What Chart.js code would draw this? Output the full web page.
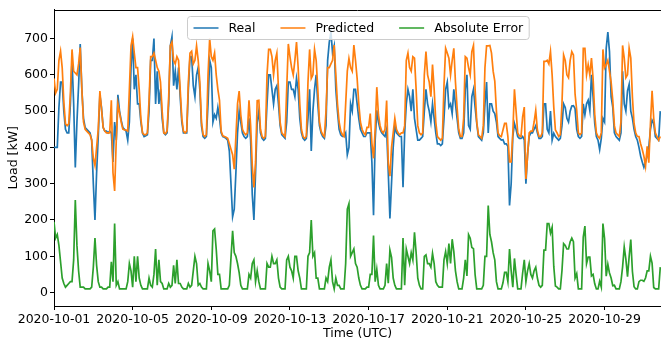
<!DOCTYPE html>
<html>
<head>
<meta charset="utf-8">
<title>Load forecast</title>
<script src="https://cdn.jsdelivr.net/npm/chart.js@4.4.1/dist/chart.umd.min.js"></script>
<style>
  html, body { margin: 0; padding: 0; background: #fff; }
  #wrap { width: 661px; height: 343px; position: relative; }
</style>
</head>
<body>
<div id="wrap"><canvas id="loadChart"></canvas></div>
<script>
// samples every 2 hours from 2020-10-01 00:00 UTC, one row per day
var pointsPerDay = 12;

var realLoad = [
    400, 400, 400, 510, 580, 580, 500, 450, 440, 440, 520, 640,
    520, 345, 470, 570, 685, 560, 480, 455, 450, 445, 440, 420,
    300, 200, 330, 430, 545, 510, 455, 445, 445, 440, 445, 440,
    360, 470, 420, 545, 500, 475, 455, 450, 445, 420, 470, 620,
    700, 560, 600, 520, 520, 470, 440, 430, 432, 435, 500, 640,
    640, 700, 520, 610, 520, 560, 480, 440, 435, 440, 520, 680,
    705, 570, 610, 560, 620, 540, 470, 440, 440, 440, 560, 650,
    650, 570, 540, 600, 620, 560, 460, 430, 425, 430, 520, 640,
    620, 470, 490, 480, 510, 480, 440, 430, 428, 425, 420, 390,
    300, 209, 230, 330, 440, 500, 470, 440, 430, 425, 430, 480,
    420, 270, 200, 330, 470, 500, 440, 425, 420, 425, 520, 600,
    600, 560, 520, 560, 570, 520, 460, 435, 430, 425, 470, 580,
    580, 560, 560, 540, 590, 560, 480, 440, 425, 420, 425, 480,
    560, 390, 500, 560, 600, 520, 460, 440, 430, 425, 460, 640,
    690, 718, 660, 680, 560, 500, 450, 435, 430, 430, 440, 380,
    400, 520, 500, 560, 560, 520, 480, 450, 440, 430, 430, 440,
    440, 440, 360, 213, 420, 502, 470, 450, 440, 435, 430, 450,
    331, 204, 303, 400, 460, 440, 435, 430, 430, 290, 440, 520,
    560, 540, 500, 560, 480, 450, 420, 420, 425, 430, 500, 560,
    520, 500, 470, 520, 480, 440, 410, 410, 405, 410, 480, 560,
    580, 511, 520, 493, 560, 520, 480, 440, 425, 425, 440, 560,
    600, 460, 450, 540, 560, 511, 466, 430, 425, 420, 440, 520,
    580, 440, 520, 520, 500, 493, 470, 430, 425, 420, 421, 410,
    410, 403, 240, 300, 430, 466, 450, 430, 425, 425, 430, 421,
    300, 380, 430, 440, 440, 450, 460, 440, 425, 425, 430, 520,
    520, 450, 440, 500, 420, 439, 430, 425, 420, 425, 460, 520,
    510, 480, 470, 500, 514, 515, 507, 450, 430, 425, 430, 520,
    490, 520, 530, 502, 600, 540, 466, 430, 420, 394, 425, 480,
    470, 673, 718, 664, 540, 511, 440, 430, 425, 420, 440, 610,
    520, 500, 556, 574, 500, 480, 450, 430, 420, 400, 376, 360,
    345, 360, 376, 400, 450, 475, 466, 430, 425, 420, 500
];

var predictedLoad = [
    590, 550, 560, 640, 665, 620, 525, 465, 460, 465, 550, 670,
    610, 605, 600, 630, 675, 560, 470, 450, 445, 440, 435, 420,
    370, 350, 400, 450, 555, 505, 455, 445, 440, 440, 440, 530,
    330, 280, 420, 520, 495, 470, 450, 448, 448, 445, 560, 680,
    705, 660, 620, 620, 560, 480, 440, 435, 435, 440, 530, 650,
    650, 660, 640, 620, 610, 580, 500, 440, 438, 445, 540, 680,
    690, 640, 630, 650, 640, 560, 480, 445, 440, 445, 580, 660,
    665, 630, 640, 680, 640, 580, 470, 435, 430, 435, 600, 700,
    650, 640, 660, 600, 560, 530, 445, 432, 430, 428, 425, 410,
    395, 380, 340, 430, 520, 555, 490, 450, 440, 435, 440, 530,
    460, 350, 290, 360, 529, 530, 450, 430, 425, 430, 600, 670,
    670, 650, 600, 640, 660, 560, 470, 440, 435, 430, 560, 685,
    650, 620, 600, 640, 690, 620, 520, 450, 430, 425, 430, 580,
    670, 590, 600, 670, 640, 560, 470, 445, 435, 430, 500, 620,
    620, 630, 640, 682, 600, 520, 470, 445, 435, 430, 520, 610,
    645, 620, 610, 682, 640, 590, 520, 470, 450, 440, 435, 455,
    455, 493, 412, 370, 450, 566, 490, 460, 445, 440, 450, 529,
    357, 321, 400, 440, 480, 450, 440, 435, 440, 440, 460, 640,
    660, 620, 610, 650, 646, 560, 460, 440, 435, 440, 600, 664,
    600, 580, 540, 628, 560, 470, 430, 425, 420, 425, 570, 673,
    660, 646, 600, 640, 673, 580, 510, 450, 430, 430, 480, 650,
    646, 620, 600, 664, 681, 560, 470, 435, 430, 425, 460, 620,
    680, 680, 681, 660, 610, 583, 500, 440, 432, 430, 448, 466,
    466, 430, 360, 360, 440, 560, 500, 440, 432, 430, 484, 511,
    313, 376, 440, 445, 445, 470, 502, 448, 430, 430, 440, 637,
    637, 640, 630, 664, 600, 511, 448, 440, 430, 435, 520, 655,
    640, 600, 592, 640, 664, 655, 547, 502, 440, 435, 440, 673,
    673, 600, 628, 600, 646, 590, 490, 440, 430, 425, 440, 670,
    619, 628, 640, 610, 580, 530, 460, 440, 435, 430, 470, 681,
    646, 592, 600, 673, 646, 538, 466, 440, 430, 430, 410, 394,
    376, 348, 403, 358, 466, 556, 480, 440, 430, 420, 430
];

var absError = [
    195, 150, 160, 130, 85, 40, 25, 15, 20, 25, 30, 30,
    90, 255, 130, 60, 15, 15, 15, 10, 10, 10, 10, 15,
    70, 150, 75, 30, 15, 15, 10, 10, 10, 15, 15, 85,
    30, 190, 20, 30, 10, 10, 10, 10, 10, 30, 80, 60,
    15, 100, 30, 100, 40, 20, 10, 10, 10, 10, 40, 20,
    15, 50, 120, 20, 90, 30, 25, 10, 10, 10, 25, 15,
    20, 75, 25, 90, 25, 25, 15, 10, 10, 10, 25, 15,
    20, 60, 100, 80, 20, 25, 15, 10, 10, 10, 80, 60,
    30, 170, 175, 120, 50, 50, 10, 10, 10, 10, 10, 20,
    95, 170, 110, 100, 80, 55, 20, 10, 10, 10, 10, 50,
    40, 80, 90, 30, 60, 30, 10, 10, 10, 10, 80, 70,
    70, 100, 80, 80, 90, 40, 15, 10, 10, 10, 90, 100,
    70, 60, 40, 100, 100, 60, 40, 10, 10, 10, 10, 100,
    110, 200, 100, 110, 40, 40, 10, 10, 10, 10, 40, 30,
    70, 90, 30, 10, 40, 20, 20, 10, 10, 10, 80, 230,
    245, 100, 110, 120, 80, 70, 40, 20, 10, 10, 10, 15,
    15, 50, 50, 157, 30, 64, 20, 10, 10, 10, 20, 80,
    26, 117, 97, 40, 20, 10, 10, 10, 10, 150, 20, 120,
    100, 80, 110, 90, 166, 110, 40, 20, 10, 10, 100, 104,
    80, 80, 70, 108, 80, 30, 20, 15, 15, 15, 90, 113,
    80, 135, 80, 147, 113, 60, 30, 10, 10, 10, 40, 90,
    46, 160, 150, 124, 121, 49, 10, 10, 10, 10, 20, 100,
    100, 240, 160, 140, 110, 90, 30, 10, 10, 10, 27, 56,
    56, 30, 120, 60, 15, 94, 50, 10, 10, 10, 54, 90,
    30, 60, 80, 50, 40, 60, 70, 40, 20, 15, 20, 117,
    117, 190, 190, 164, 180, 72, 18, 15, 10, 10, 60, 135,
    130, 120, 120, 140, 150, 140, 40, 52, 10, 10, 10, 153,
    183, 80, 98, 98, 46, 50, 24, 10, 10, 31, 15, 190,
    149, 45, 78, 54, 40, 19, 20, 10, 10, 10, 30, 71,
    126, 92, 44, 99, 146, 58, 16, 10, 10, 30, 34, 34,
    31, 40, 60, 60, 100, 81, 14, 10, 10, 10, 70
];

var tickDays = [0, 4, 8, 12, 16, 20, 24, 28];
var tickLabels = ['2020-10-01', '2020-10-05', '2020-10-09', '2020-10-13',
                  '2020-10-17', '2020-10-21', '2020-10-25', '2020-10-29'];
var yTicks = [0, 100, 200, 300, 400, 500, 600, 700];

var seriesNames = ['Real', 'Predicted', 'Absolute Error'];
var seriesColors = ['#1f77b4', '#ff7f0e', '#2ca02c'];

function toPoints(values) {
    return values.map(function (v, i) {
        return { x: i / pointsPerDay, y: v };
    });
}

var baseFont = { family: 'DejaVu Sans', size: 12.5 };

// matplotlib style legend box inside the plot
var legendBox = {
    id: 'legendBox',
    afterDatasetsDraw: function (chart) {
        var ctx = chart.ctx;
        var area = chart.chartArea;
        ctx.save();
        ctx.font = '12.5px "DejaVu Sans"';
        var handle = 25, gap = 10, colGap = 25, pad = 6;
        var total = pad * 2;
        seriesNames.forEach(function (name, i) {
            total += handle + gap + ctx.measureText(name).width;
            if (i < seriesNames.length - 1) total += colGap;
        });
        var cx = (area.left + area.right) / 2;
        var x0 = Math.round(cx - total / 2) + 0.5;
        var y0 = Math.round(area.top + 6) + 0.5;
        var h = 23;
        ctx.beginPath();
        if (ctx.roundRect) {
            ctx.roundRect(x0, y0, total, h, 3);
        } else {
            ctx.rect(x0, y0, total, h);
        }
        ctx.fillStyle = 'rgba(255,255,255,0.8)';
        ctx.fill();
        ctx.strokeStyle = '#cccccc';
        ctx.lineWidth = 1;
        ctx.stroke();

        var x = x0 + pad;
        var ym = y0 + h / 2;
        seriesNames.forEach(function (name, i) {
            ctx.beginPath();
            ctx.moveTo(x, ym);
            ctx.lineTo(x + handle, ym);
            ctx.strokeStyle = seriesColors[i];
            ctx.lineWidth = 1.5;
            ctx.stroke();
            x += handle + gap;
            ctx.fillStyle = '#000';
            ctx.textBaseline = 'middle';
            ctx.fillText(name, x, ym + 0.5);
            x += ctx.measureText(name).width + colGap;
        });
        ctx.restore();
    },
    afterDraw: function (chart) {
        var ctx = chart.ctx;
        var area = chart.chartArea;
        ctx.save();
        ctx.strokeStyle = '#000';
        ctx.lineWidth = 1;
        ctx.beginPath();
        var yt = Math.round(area.top) + 0.5;
        ctx.moveTo(area.left, yt);
        ctx.lineTo(area.right, yt);
        ctx.stroke();
        ctx.restore();
    }
};

var ctx = document.getElementById('loadChart').getContext('2d');
new Chart(ctx, {
    type: 'line',
    data: {
        datasets: [
            { label: seriesNames[0], data: toPoints(realLoad), borderColor: seriesColors[0], order: 3 },
            { label: seriesNames[1], data: toPoints(predictedLoad), borderColor: seriesColors[1], order: 2 },
            { label: seriesNames[2], data: toPoints(absError), borderColor: seriesColors[2], order: 1 }
        ]
    },
    options: {
        responsive: true,
        maintainAspectRatio: false,
        animation: false,
        layout: { padding: { top: 3.5, right: 0, bottom: 0, left: 0 } },
        elements: {
            point: { radius: 0 },
            line: { borderWidth: 1.7, tension: 0, fill: false }
        },
        plugins: {
            legend: { display: false },
            tooltip: { enabled: false }
        },
        scales: {
            x: {
                type: 'linear',
                min: 0,
                max: 30.87,
                afterBuildTicks: function (scale) {
                    scale.ticks = tickDays.map(function (d) { return { value: d }; });
                },
                afterFit: function (scale) { scale.height = 37; },
                grid: { display: true, drawOnChartArea: false, drawTicks: true, tickLength: 4, color: '#000' },
                border: { display: true, color: '#000', width: 1 },
                ticks: {
                    font: baseFont,
                    color: '#000',
                    padding: 2,
                    maxRotation: 0,
                    autoSkip: false,
                    callback: function (value) {
                        var i = tickDays.indexOf(value);
                        return i >= 0 ? tickLabels[i] : '';
                    }
                },
                title: { display: true, text: 'Time (UTC)', font: baseFont, color: '#000', padding: { top: 0, bottom: 2 } }
            },
            y: {
                min: -37,
                max: 780,
                afterBuildTicks: function (scale) {
                    scale.ticks = yTicks.map(function (v) { return { value: v }; });
                },
                afterFit: function (scale) { scale.width = 54; },
                grid: { display: true, drawOnChartArea: false, drawTicks: true, tickLength: 4, color: '#000' },
                border: { display: true, color: '#000', width: 1 },
                ticks: { font: baseFont, color: '#000', padding: 2 },
                title: { display: true, text: 'Load [kW]', font: baseFont, color: '#000', padding: { top: 6, bottom: 0 } }
            }
        }
    },
    plugins: [legendBox]
});
</script>
</body>
</html>
